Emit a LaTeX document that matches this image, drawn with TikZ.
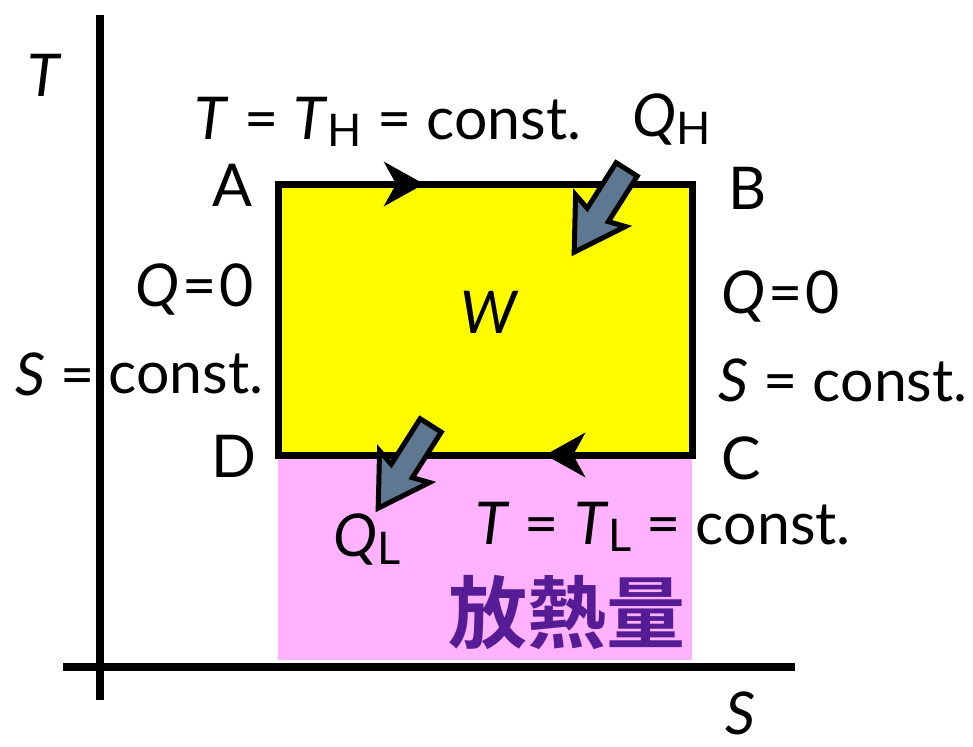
\documentclass[tikz,border=0pt]{standalone}
\usepackage{fontspec}
\setmainfont{Lato}
\newfontfamily\cjkb{Noto Sans CJK JP Bold}
\usetikzlibrary{arrows.meta,shapes.arrows,calc}
\definecolor{yel}{HTML}{FFFC00}
\definecolor{pinkfill}{HTML}{FFB3FF}
\definecolor{purp}{HTML}{561C96}
\definecolor{slate}{HTML}{5F7891}
\newcommand{\sub}[1]{\raisebox{-0.12em}{\fontsize{45}{47}\selectfont #1}}
\begin{document}
\begin{tikzpicture}[x=1pt,y=-1pt,
  lbl/.style={font=\fontsize{59}{64}\selectfont, inner sep=0pt},
  axis/.style={line width=8pt},
  edge/.style={line width=7pt},
  flow/.style={edge, -{Stealth[length=40pt,width=44pt,inset=12pt]}},
  fat/.style={single arrow, draw=black, line width=5pt, fill=slate, minimum height=98pt,
    single arrow head extend=17pt, single arrow tip angle=62, single arrow head indent=5pt,
    inner sep=10pt, rotate=-122.4}]
\useasboundingbox (0,0) rectangle (973,746);
% axes
\coordinate (ytop) at (100,15);
\coordinate (ybot) at (100,700);
\coordinate (xl) at (63,667);
\coordinate (xr) at (795,667);
\draw[axis] (ybot) -- (ytop);
\draw[axis] (xl) -- (xr);
% corners
\coordinate (A) at (278,184);
\coordinate (B) at (692,184);
\coordinate (C) at (692,455);
\coordinate (D) at (278,455);
\fill[pinkfill] (D) rectangle (692,660);
\draw[edge, fill=yel, line join=miter] (A) -- (B) -- (C) -- (D) -- cycle;
\draw[flow] (A) -- ($(A)!0.353!(B)$);
\draw[flow] (C) -- ($(C)!0.355!(D)$);
% fat arrows
\node[fat] (qh) at (606,202) {};
\node[fat] (ql) at (410,458) {};
% labels
\node[lbl] (Tax) at (45,75) {\textit{T}};
\node[lbl] (Sax) at (740,713) {\textit{S}};
\node[lbl] (la) at (232,185) {A};
\node[lbl] (lb) at (748,188) {B};
\node[lbl] (lc) at (741,458) {C};
\node[lbl] (ld) at (234,456) {D};
\node[lbl] (top) at (388,122) {\textit{T} = \textit{T}\sub{H} = const.};
\node[lbl] (QH) at (672,120) {\textit{Q}\sub{H}};
\node[lbl] (q0l) at (195,290) {\textit{Q}\kern3pt=\kern3pt0};
\node[lbl] (sl) at (55,374) {\textit{S} =};
\node[lbl] (cl) at (186,374) {const.};
\node[lbl] (q0r) at (781,297) {\textit{Q}\kern3pt=\kern3pt0};
\node[lbl] (sr) at (843,380) {\textit{S} = const.};
\node[lbl] (W) at (490,312) {\textit{W}};
\node[lbl] (bot) at (663,527) {\textit{T} = \textit{T}\sub{L} = const.};
\node[lbl] (QL) at (367,540) {\textit{Q}\sub{L}};
\node[inner sep=0pt, text=purp, font=\cjkb\fontsize{79}{82}\selectfont] (heat) at (567,613) {放熱量};
\end{tikzpicture}
\end{document}
